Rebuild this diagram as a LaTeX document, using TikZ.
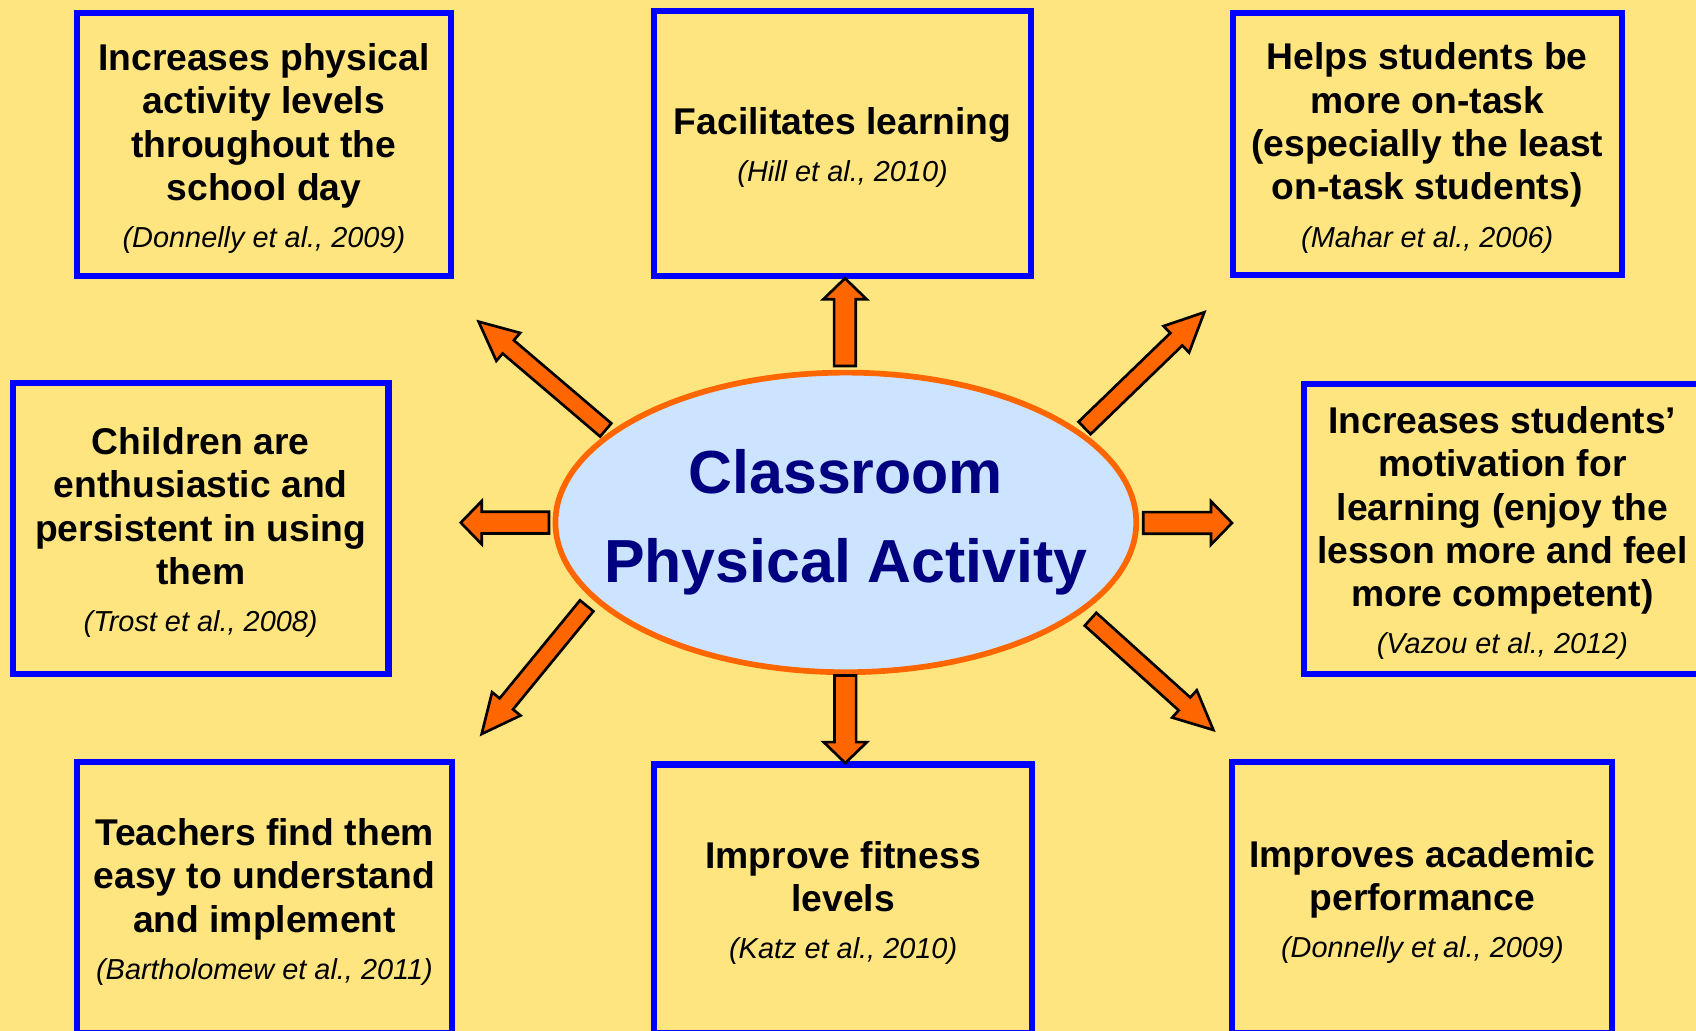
\documentclass[tikz,border=0pt]{standalone}
\usepackage{fontspec}
\setmainfont{Liberation Sans}
\usetikzlibrary{shapes.geometric,calc}

\definecolor{bgyellow}{RGB}{255,229,128}
\definecolor{boxblue}{RGB}{0,0,255}
\definecolor{paorange}{RGB}{255,102,0}
\definecolor{hubblue}{RGB}{204,228,255}
\definecolor{navy}{RGB}{0,0,128}

\newcommand{\refcit}[1]{{\fontsize{7.6}{9}\selectfont\mdseries\itshape #1}}
\newcommand{\topgap}{\rule{0pt}{9.3pt}}
% tail, tip, half shaft, half head, head length
\newcommand{\blockarrow}[5]{%
  \coordinate (hb) at ($(#2)!#5!(#1)$);
  \draw[barrow] ($(#1)!#3!90:(#2)$) -- ($(hb)!#3!90:(#2)$) -- ($(hb)!#4!90:(#2)$) -- (#2)
    -- ($(hb)!#4!-90:(#2)$) -- ($(hb)!#3!-90:(#2)$) -- ($(#1)!#3!-90:(#2)$) -- cycle;}

\begin{document}
\begin{tikzpicture}

\tikzstyle{box}=[rectangle, draw=boxblue, line width=1.6pt, fill=bgyellow, align=center, inner sep=0pt, font=\fontsize{9.8}{11.4}\selectfont\bfseries]
\tikzstyle{hub}=[ellipse, draw=paorange, line width=1.5pt, fill=hubblue, inner sep=0pt, minimum width=5.37cm, minimum height=2.77cm]
\tikzstyle{hubtext}=[align=center, text=navy, font=\fontsize{16}{23.3}\selectfont\bfseries]
\tikzstyle{barrow}=[fill=paorange, draw=black, line width=0.7pt]

\useasboundingbox (0,0) rectangle (15.68,9.53);
\fill[bgyellow] (0,0) rectangle (15.68,9.53);

\node (A) [box, minimum width=3.464cm, minimum height=2.434cm] at (2.44,8.195)
  {\topgap Increases physical\\activity levels\\throughout the\\school day\\[1pt]\refcit{(Donnelly et al., 2009)}};
\node (B) [box, minimum width=3.484cm, minimum height=2.454cm] at (7.79,8.205)
  {\topgap Facilitates learning\\[1pt]\refcit{(Hill et al., 2010)}};
\node (C) [box, minimum width=3.594cm, minimum height=2.424cm] at (13.195,8.20)
  {\topgap Helps students be\\more on-task\\(especially the least\\on-task students)\\[1pt]\refcit{(Mahar et al., 2006)}};
\node (D) [box, minimum width=3.474cm, minimum height=2.694cm] at (1.855,4.645)
  {\topgap Children are\\enthusiastic and\\persistent in using\\them\\[1pt]\refcit{(Trost et al., 2008)}};
\node (E) [box, minimum width=3.664cm, minimum height=2.684cm] at (13.89,4.64)
  {\topgap Increases students’\\motivation for\\learning (enjoy the\\lesson more and feel\\more competent)\\[1pt]\refcit{(Vazou et al., 2012)}};
\node (F) [box, minimum width=3.474cm, minimum height=2.504cm] at (2.445,1.23)
  {\topgap Teachers find them\\easy to understand\\and implement\\[1pt]\refcit{(Bartholomew et al., 2011)}};
\node (G) [box, minimum width=3.494cm, minimum height=2.484cm] at (7.795,1.22)
  {\topgap Improve fitness\\levels\\[1pt]\refcit{(Katz et al., 2010)}};
\node (H) [box, minimum width=3.514cm, minimum height=2.504cm] at (13.15,1.23)
  {\topgap Improves academic\\performance\\[1pt]\refcit{(Donnelly et al., 2009)}};

\node (PA) [hub] at (7.82,4.70) {};
\node (PT) [hubtext] at (PA.center) {Classroom\\Physical Activity};

% arrow ends
\coordinate (up0) at (7.812,6.146);  \coordinate (up1) at (7.812,6.957);
\coordinate (dn0) at (7.815,3.285);  \coordinate (dn1) at (7.815,2.475);
\coordinate (lf0) at (5.076,4.698);  \coordinate (lf1) at (4.26,4.698);
\coordinate (rt0) at (10.57,4.695);  \coordinate (rt1) at (11.39,4.695);
\coordinate (ul0) at (5.60,5.555);   \coordinate (ul1) at (4.425,6.556);
\coordinate (ur0) at (10.027,5.573); \coordinate (ur1) at (11.134,6.643);
\coordinate (ll0) at (5.424,3.929);  \coordinate (ll1) at (4.453,2.744);
\coordinate (lr0) at (10.082,3.805); \coordinate (lr1) at (11.218,2.781);

\blockarrow{up0}{up1}{0.10cm}{0.20cm}{0.194cm}
\blockarrow{dn0}{dn1}{0.10cm}{0.20cm}{0.194cm}
\blockarrow{lf0}{lf1}{0.10cm}{0.20cm}{0.194cm}
\blockarrow{rt0}{rt1}{0.10cm}{0.20cm}{0.194cm}
\blockarrow{ul0}{ul1}{0.08cm}{0.17cm}{0.36cm}
\blockarrow{ur0}{ur1}{0.08cm}{0.17cm}{0.36cm}
\blockarrow{ll0}{ll1}{0.08cm}{0.17cm}{0.36cm}
\blockarrow{lr0}{lr1}{0.08cm}{0.17cm}{0.36cm}

\end{tikzpicture}
\end{document}
